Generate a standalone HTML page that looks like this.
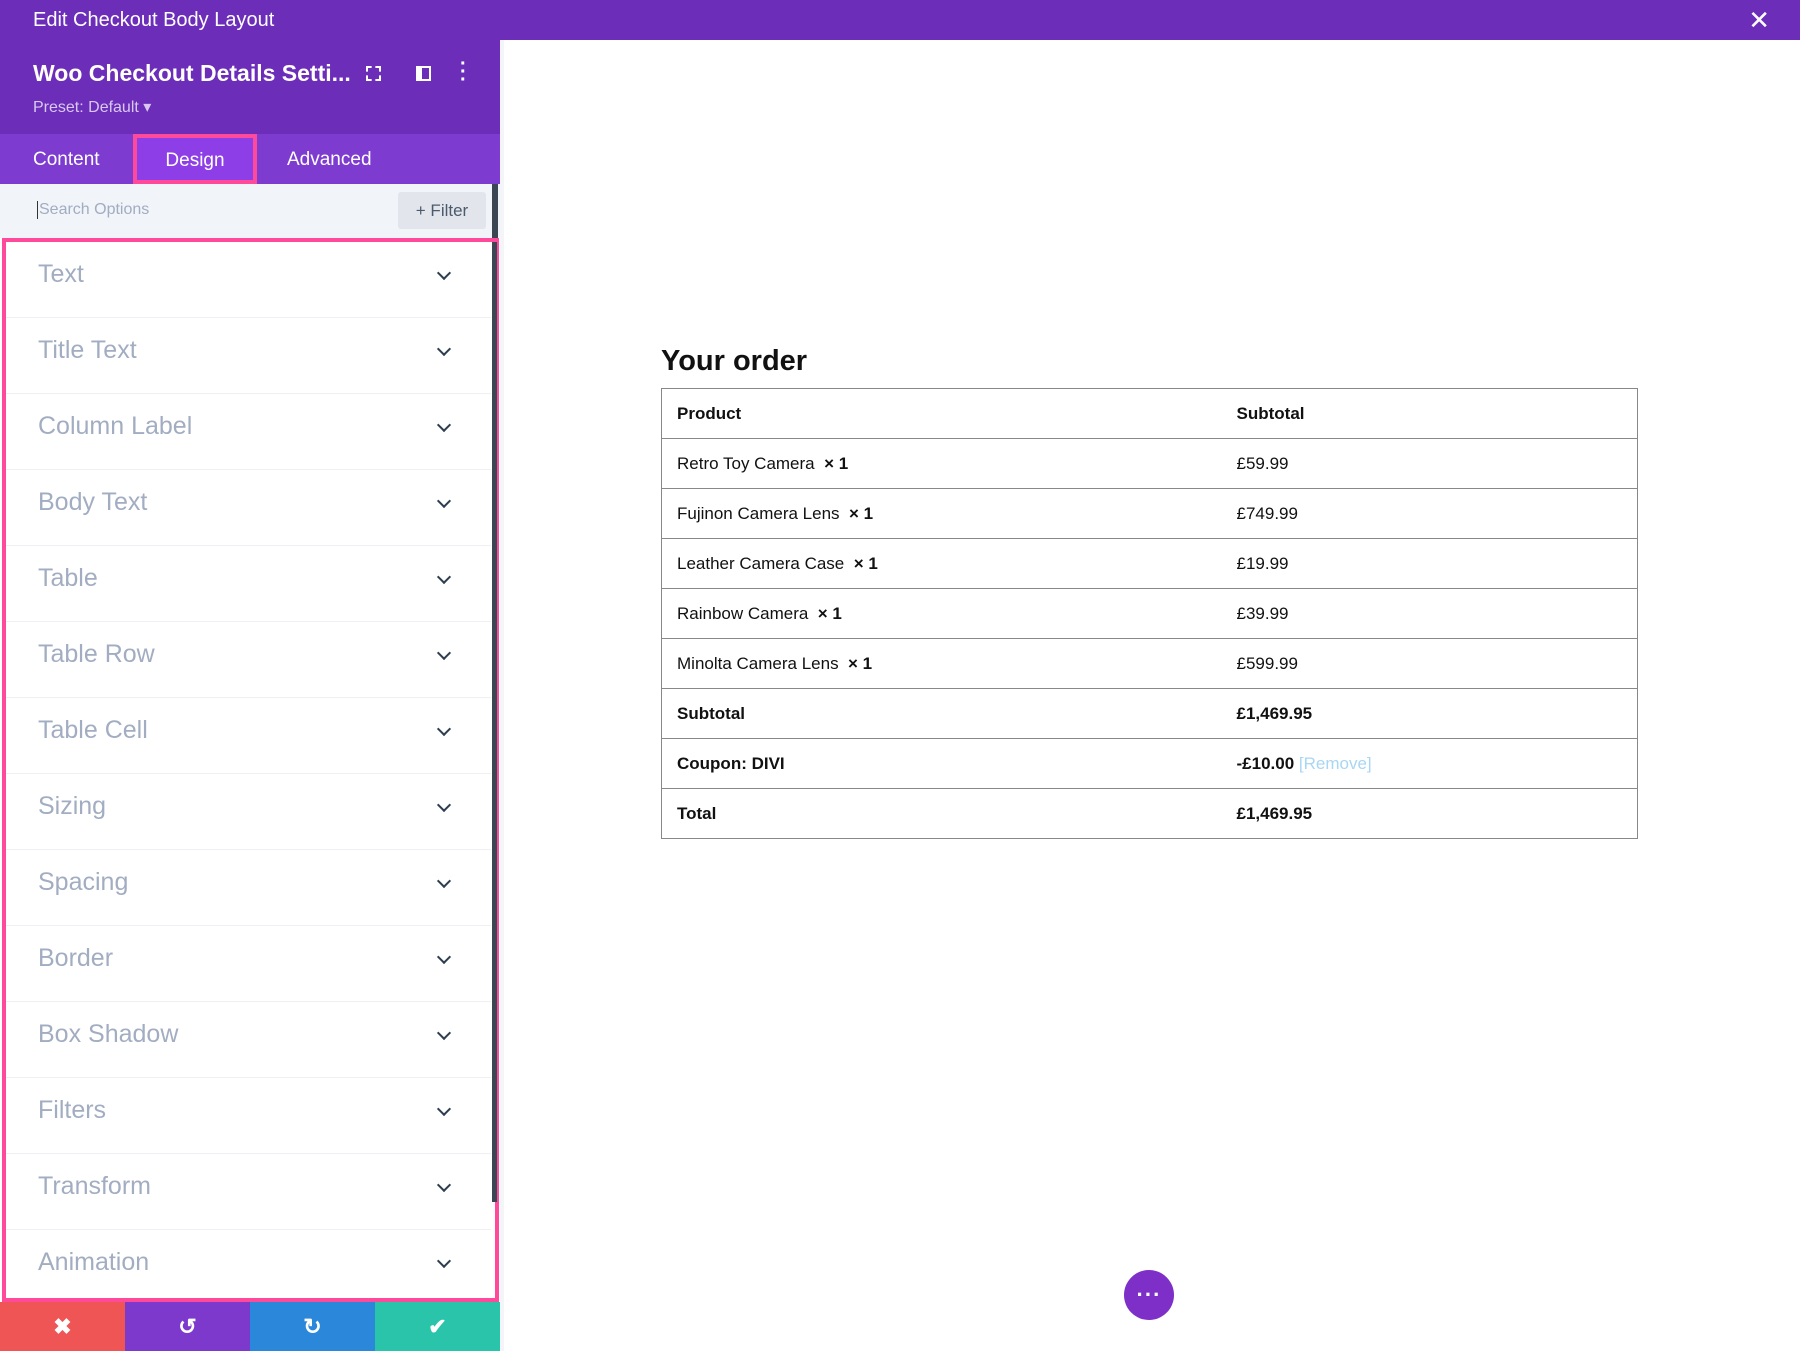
<!DOCTYPE html>
<html><head><meta charset="utf-8"><style>
*{box-sizing:border-box;margin:0;padding:0}
body{width:1800px;height:1351px;position:relative;overflow:hidden;background:#fff;font-family:"Liberation Sans",sans-serif}
.abs{position:absolute}
.top{left:0;top:0;width:1800px;height:40px;background:#6c2eb9;color:#fff;font-size:20px;line-height:40px;padding-left:33px}
.hdr{left:0;top:40px;width:500px;height:94px;background:#6c2eb9;color:#fff}
.tabs{left:0;top:134px;width:500px;height:50px;background:#7e3bd0;color:#fff;font-size:19px}
.search{left:0;top:184px;width:500px;height:54px;background:#f1f4f8}
.list{left:2px;top:238px;width:497px;height:1064px;border:4px solid #ff4a9b;background:#fff}
.item{position:absolute;left:0;width:485px;height:76px;border-bottom:1px solid #eef0f3;color:#a2adc2;font-size:25px;line-height:64px;padding-left:32px}
.chev{position:absolute;right:42px;top:26px;width:10px;height:10px;border-right:2.5px solid #2d3e50;border-bottom:2.5px solid #2d3e50;transform:rotate(45deg)}
.btn{top:1302px;height:49px;width:125px;color:#fff;font-size:22px;text-align:center;line-height:49px;font-weight:bold}
table{position:absolute;left:661px;top:388px;width:977px;border-collapse:collapse;font-size:17px;color:#111;border:1.5px solid #888}
td{border-top:1.5px solid #888;border-bottom:1.5px solid #888;height:50px;padding-left:15px}
td.c2{width:416px}
b{font-weight:bold}
</style></head><body>
<div class="abs top">Edit Checkout Body Layout<span style="position:absolute;right:30px;top:0;font-size:26px">✕</span></div>
<div class="abs hdr">
 <div class="abs" style="left:33px;top:20px;font-size:23px;font-weight:bold">Woo Checkout Details Setti...</div>
 <div class="abs" style="left:366px;top:26px;width:15px;height:15px;border:2px dashed #fff"></div>
 <div class="abs" style="left:416px;top:26px;width:15px;height:15px;border:2px solid #fff;border-left-width:6px"></div>
 <div class="abs" style="left:460px;top:20px;font-size:20px;font-weight:bold;line-height:8px">·<br>·<br>·</div>
 <div class="abs" style="left:33px;top:57px;font-size:16px;color:#d9c8f0">Preset: Default ▾</div>
</div>
<div class="abs tabs">
 <div class="abs" style="left:33px;top:15px">Content</div>
 <div class="abs" style="left:133px;top:0;width:124px;height:50px;background:#8e3ee6;border:4px solid #ff4a9b;text-align:center;line-height:46px">Design</div>
 <div class="abs" style="left:287px;top:15px">Advanced</div>
</div>
<div class="abs search">
 <div class="abs" style="left:37px;top:17px;font-size:16px;color:#a2adc2;border-left:1px solid #333;padding-left:1px">Search Options</div>
 <div class="abs" style="left:398px;top:8px;width:88px;height:37px;background:#e2e6ec;border-radius:3px;color:#4b5a6c;font-size:17px;line-height:37px;text-align:center">+ Filter</div>
 <div class="abs" style="left:492px;top:0;width:6px;height:54px;background:#3a4653"></div>
</div>
<div class="abs list">
 <div class="abs" style="right:-2px;top:0;width:5px;height:960px;background:#3a4653"></div>
 <div class="item" style="top:0">Text<i class="chev"></i></div>
 <div class="item" style="top:76px">Title Text<i class="chev"></i></div>
 <div class="item" style="top:152px">Column Label<i class="chev"></i></div>
 <div class="item" style="top:228px">Body Text<i class="chev"></i></div>
 <div class="item" style="top:304px">Table<i class="chev"></i></div>
 <div class="item" style="top:380px">Table Row<i class="chev"></i></div>
 <div class="item" style="top:456px">Table Cell<i class="chev"></i></div>
 <div class="item" style="top:532px">Sizing<i class="chev"></i></div>
 <div class="item" style="top:608px">Spacing<i class="chev"></i></div>
 <div class="item" style="top:684px">Border<i class="chev"></i></div>
 <div class="item" style="top:760px">Box Shadow<i class="chev"></i></div>
 <div class="item" style="top:836px">Filters<i class="chev"></i></div>
 <div class="item" style="top:912px">Transform<i class="chev"></i></div>
 <div class="item" style="top:988px;border:none">Animation<i class="chev"></i></div>
</div>
<div class="abs btn" style="left:0;background:#ef5555">✖</div>
<div class="abs btn" style="left:125px;background:#7d39cc">↺</div>
<div class="abs btn" style="left:250px;background:#2b87da">↻</div>
<div class="abs btn" style="left:375px;background:#29c4a9">✔</div>
<div class="abs" style="left:500px;top:40px;width:4px;height:1311px;background:#f3f5f8"></div>
<div class="abs" style="left:661px;top:345px;font-size:29px;font-weight:bold;color:#111">Your order</div>
<table>
<tr><td><b>Product</b></td><td class="c2"><b>Subtotal</b></td></tr>
<tr><td>Retro Toy Camera &nbsp;<b>× 1</b></td><td>£59.99</td></tr>
<tr><td>Fujinon Camera Lens &nbsp;<b>× 1</b></td><td>£749.99</td></tr>
<tr><td>Leather Camera Case &nbsp;<b>× 1</b></td><td>£19.99</td></tr>
<tr><td>Rainbow Camera &nbsp;<b>× 1</b></td><td>£39.99</td></tr>
<tr><td>Minolta Camera Lens &nbsp;<b>× 1</b></td><td>£599.99</td></tr>
<tr><td><b>Subtotal</b></td><td><b>£1,469.95</b></td></tr>
<tr><td><b>Coupon: DIVI</b></td><td><b>-£10.00</b> <span style="color:#a9d6f5">[Remove]</span></td></tr>
<tr><td><b>Total</b></td><td><b>£1,469.95</b></td></tr>
</table>
<div class="abs" style="left:1124px;top:1270px;width:50px;height:50px;border-radius:50%;background:#7d2fc8;color:#fff;text-align:center;line-height:50px;font-size:22px;font-weight:bold;letter-spacing:1px">···</div>
</body></html>
